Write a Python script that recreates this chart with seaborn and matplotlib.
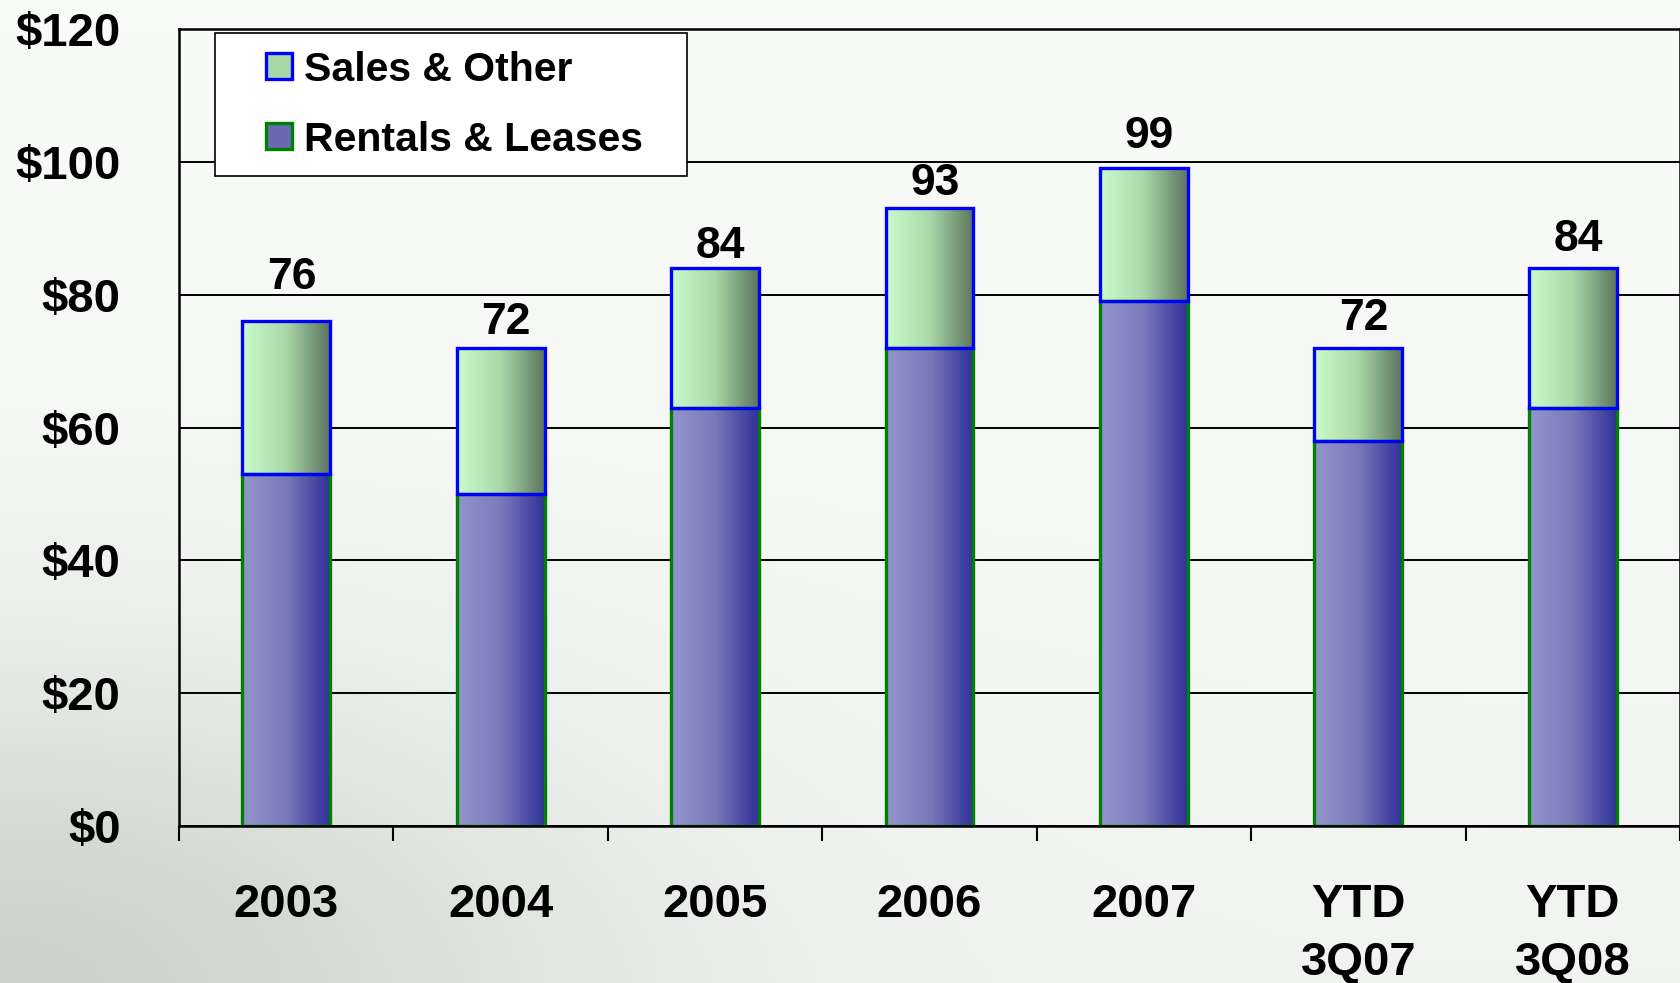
import numpy as np
import matplotlib
matplotlib.use("Agg")
import matplotlib.pyplot as plt
import seaborn as sns
from matplotlib.patches import Patch, Rectangle
from matplotlib.legend_handler import HandlerPatch
from matplotlib.colors import LinearSegmentedColormap

# DATA
categories = ["2003", "2004", "2005", "2006", "2007", "YTD\n3Q07", "YTD\n3Q08"]
rentals = [53, 50, 63, 72, 79, 58, 63]
sales = [23, 22, 21, 21, 20, 14, 21]
yticks = [0, 20, 40, 60, 80, 100, 120]

totals = [r + s for r, s in zip(rentals, sales)]

sns.set_theme(style="white")
plt.rcParams["font.family"] = ["Liberation Sans", "DejaVu Sans"]
plt.rcParams["font.weight"] = "bold"
plt.rcParams["text.color"] = "black"
plt.rcParams["xtick.color"] = "black"
plt.rcParams["ytick.color"] = "black"
plt.rcParams["xtick.bottom"] = True

fig = plt.figure(figsize=(16.81, 9.83), dpi=100)

# soft background, greyish towards the bottom left
bg = fig.add_axes([0, 0, 1, 1])
X, Y = np.meshgrid(np.linspace(0, 1, 300), np.linspace(0, 1, 200))
shade = 0.14 * np.exp(-(X ** 2 / 0.12 + Y ** 2 / 0.10)) + 0.03 * (1 - Y)
img = np.dstack([0.975 - shade, 0.985 - shade * 0.95, 0.975 - shade * 1.05])
bg.imshow(np.clip(img, 0, 1), extent=[0, 1, 0, 1], origin="lower", aspect="auto")
bg.axis("off")

ax = fig.add_axes([0.1065, 0.1597, 0.8929, 0.8108])
ax.patch.set_alpha(0)

bar_w = 0.41
sns.barplot(x=categories, y=rentals, ax=ax, width=bar_w, color="#6a6ab4",
            saturation=1, edgecolor="#008000", linewidth=2.4)
rental_bars = list(ax.patches)
sales_bars = ax.bar(range(len(categories)), sales, bottom=rentals, width=bar_w,
                    color="#a8d8a8", edgecolor="#0000ff", linewidth=2.4)

# horizontal gradients inside each bar
purple = LinearSegmentedColormap.from_list("p", ["#9494cc", "#7a7abb", "#30309a"])
green = LinearSegmentedColormap.from_list("g", ["#cbfacb", "#a9d8a9", "#5c745e"])
grad = np.linspace(0, 1, 256).reshape(1, -1)
for bars, cmap in [(rental_bars, purple), (list(sales_bars), green)]:
    for p in bars:
        b = p.get_bbox()
        ax.imshow(grad, extent=[b.x0, b.x1, b.y0, b.y1], aspect="auto",
                  cmap=cmap, zorder=0.9, interpolation="bilinear")
        p.set_facecolor("none")
        p.set_zorder(1.2)

# total labels (the original slide places them at slightly different heights)
label_pad = [23, 10, 7, 9.5, 14.5, 13, 12]
for i, t in enumerate(totals):
    ax.annotate(str(t), (i, t), xytext=(4, label_pad[i]), textcoords="offset points",
                ha="center", va="baseline", fontsize=32, fontweight="bold")

ax.set_xlim(-0.5, len(categories) - 0.5)
ax.set_ylim(0, 120)
ax.set_yticks(yticks)
ax.set_yticklabels([f"${v}" for v in yticks])
ax.set_xticks(range(len(categories)))
ax.set_xticklabels(categories)
ax.set_xticks(np.arange(-0.5, len(categories)), minor=True)
ax.set_xlabel("")
ax.set_ylabel("")
for lbl in ax.get_xticklabels():
    lbl.set_linespacing(1.4)

ax.tick_params(axis="y", length=0, pad=42, labelsize=34)
ax.tick_params(axis="x", which="major", bottom=True, length=0, pad=41, labelsize=34)
ax.tick_params(axis="x", which="minor", bottom=True, length=11, width=1.5,
               color="black", direction="out")

ax.set_axisbelow(True)
ax.yaxis.grid(True, color="black", linewidth=1.4)
ax.xaxis.grid(False)
for s in ax.spines.values():
    s.set_visible(True)
    s.set_color("black")
    s.set_linewidth(1.8)


def square_right(legend, orig_handle, xdescent, ydescent, width, height, fontsize):
    return Rectangle((-xdescent + width - height, -ydescent), height, height)


handles = [Patch(facecolor="#a8d8a8", edgecolor="#0000ff", linewidth=2.4, label="Sales & Other"),
           Patch(facecolor="#6a6ab4", edgecolor="#008000", linewidth=2.4, label="Rentals & Leases")]
leg = ax.legend(handles=handles, loc="upper left", bbox_to_anchor=(0.024, 0.5, 0.3145, 0.495),
                mode="expand", borderaxespad=0, fontsize=29.5, frameon=True, fancybox=False,
                handlelength=1.45, handleheight=0.6, handletextpad=0.3, labelspacing=0.78,
                borderpad=0.43, handler_map={Patch: HandlerPatch(patch_func=square_right)})
leg.get_frame().set_edgecolor("black")
leg.get_frame().set_linewidth(1.2)
leg.get_frame().set_facecolor("white")
leg.get_frame().set_alpha(1)
for t in leg.get_texts():
    t.set_fontweight("bold")

plt.savefig("out.png", dpi=100)
